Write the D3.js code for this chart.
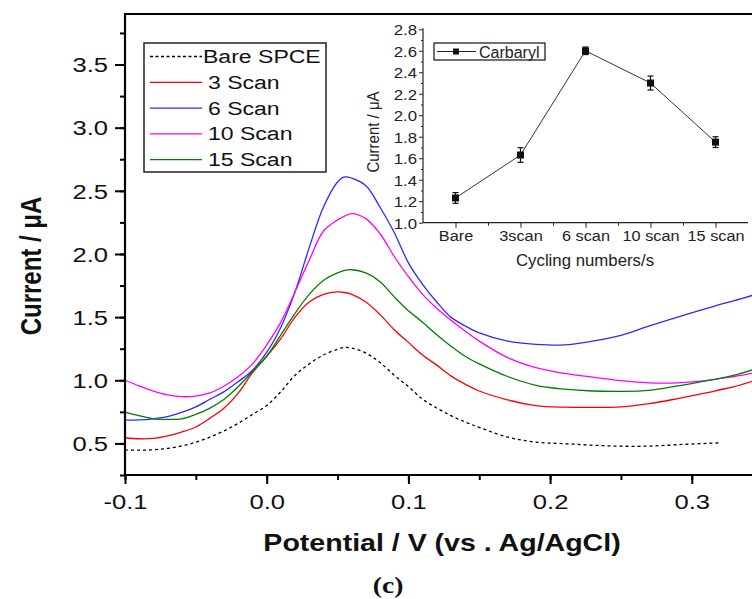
<!DOCTYPE html>
<html><head><meta charset="utf-8">
<script src="https://cdn.jsdelivr.net/npm/d3@7"></script>
<style>body{margin:0;background:#fff} svg{display:block}</style>
</head><body><svg id="c" width="752" height="599"></svg>
<script>
// ---------- data ----------
const potentials = [-0.1,-0.09,-0.08,-0.07,-0.06,-0.05,-0.04,-0.03,-0.02,-0.01,0,0.01,0.02,0.03,0.04,0.05,0.055,0.06,0.07,0.08,0.09,0.1,0.11,0.12,0.13,0.14,0.15,0.17,0.19,0.21,0.23,0.25,0.27,0.29,0.31,0.32,0.33,0.345];
const bareSPCE = [0.447,0.447,0.45,0.46,0.48,0.51,0.55,0.60,0.66,0.73,0.80,0.91,1.04,1.13,1.20,1.245,1.26,1.255,1.215,1.14,1.04,0.95,0.85,0.78,0.72,0.67,0.627,0.55,0.51,0.498,0.486,0.478,0.479,0.49,0.50,0.505,null,null];
const scan3 = [0.545,0.537,0.54,0.56,0.59,0.63,0.70,0.78,0.90,1.06,1.19,1.33,1.50,1.62,1.68,1.70,1.695,1.68,1.62,1.52,1.40,1.30,1.20,1.12,1.035,0.97,0.915,0.845,0.80,0.787,0.785,0.79,0.815,0.855,0.90,0.925,0.95,1.00];
const scan6 = [0.684,0.686,0.695,0.712,0.745,0.79,0.85,0.91,0.99,1.08,1.22,1.42,1.70,2.05,2.37,2.57,2.61,2.60,2.54,2.37,2.17,1.93,1.76,1.62,1.50,1.43,1.375,1.31,1.285,1.28,1.31,1.355,1.43,1.50,1.567,1.60,1.63,1.68];
const scan10 = [1.00,0.955,0.915,0.885,0.87,0.875,0.90,0.955,1.03,1.13,1.28,1.46,1.70,1.95,2.18,2.27,2.30,2.32,2.28,2.16,1.98,1.82,1.68,1.57,1.475,1.39,1.31,1.18,1.10,1.055,1.025,0.997,0.98,0.98,0.997,1.015,1.03,1.06];
const scan15 = [0.747,0.72,0.695,0.69,0.695,0.73,0.78,0.85,0.95,1.07,1.19,1.36,1.53,1.68,1.79,1.85,1.87,1.875,1.85,1.78,1.66,1.55,1.46,1.36,1.27,1.19,1.13,1.03,0.96,0.93,0.915,0.912,0.92,0.955,0.995,1.015,1.04,1.09];
const seriesNames = ["Bare SPCE","3 Scan","6 Scan","10 Scan","15 Scan"];
const xTicks = [-0.1,0.0,0.1,0.2,0.3];
const yTicks = [0.5,1.0,1.5,2.0,2.5,3.0,3.5];
const insetCategories = ["Bare","3scan","6 scan","10 scan","15 scan"];
const insetValues = [1.23,1.63,2.60,2.30,1.75];
const insetErrors = [0.05,0.068,0.035,0.065,0.05];
const insetYTicks = [1.0,1.2,1.4,1.6,1.8,2.0,2.2,2.4,2.6,2.8];
const insetLegend = "Carbaryl";

// ---------- styles ----------
const colors = ["#000000","#ff0000","#2a2aff","#ff00ff","#008000"];
const SX = 1.28;            // horizontal glyph stretch of the original
const FONT = "'Liberation Sans', Arial, sans-serif";

const svg = d3.select("#c");
const W = 752;
const pL = 125, pT = 14, pB = 475;
const x = d3.scaleLinear().domain([-0.1, 0.35]).range([pL, pL + 0.45 * 1417]);
const y = d3.scaleLinear().domain([0.25, 3.9]).range([pB, pT]);
const fmt1 = d => d.toFixed(1);

function txt(g, px, py, s, o) {
  return g.append("text")
    .attr("transform", `translate(${px},${py}) scale(${o.sx || 1},1)` + (o.rot ? ` rotate(${o.rot})` : ""))
    .attr("text-anchor", o.anchor || "start")
    .style("font-family", o.family || FONT)
    .style("font-size", o.size + "px")
    .style("font-weight", o.weight || "normal")
    .style("fill", o.fill || "#111")
    .text(s);
}

// ---------- curves ----------
const plot = svg.append("g");
const allSeries = [bareSPCE, scan3, scan6, scan10, scan15];
const line = d3.line()
  .defined(d => d[1] != null)
  .x(d => x(d[0])).y(d => y(d[1]))
  .curve(d3.curveCatmullRom.alpha(0.5));
allSeries.forEach((vals, i) => {
  plot.append("path")
    .datum(potentials.map((p, k) => [p, vals[k]]))
    .attr("d", line)
    .attr("fill", "none")
    .attr("stroke", colors[i])
    .attr("stroke-width", 1.3)
    .attr("stroke-dasharray", i === 0 ? "3,3" : null);
});

// ---------- axes ----------
const axG = svg.append("g");
axG.append("g").attr("transform", `translate(${pL},0)`)
  .call(d3.axisLeft(y).tickValues(d3.range(0.25, 3.9, 0.25)).tickSize(5).tickFormat(""))
  .call(g => g.select(".domain").remove())
  .call(g => g.selectAll("line").attr("stroke", "#000").attr("stroke-width", 2));
axG.append("g").attr("transform", `translate(${pL},0)`)
  .call(d3.axisLeft(y).tickValues(yTicks).tickSize(10).tickFormat(fmt1))
  .call(g => g.select(".domain").remove())
  .call(g => g.selectAll("line").attr("stroke", "#000").attr("stroke-width", 2))
  .call(g => g.selectAll("text")
    .attr("x", null).attr("dy", "0.36em")
    .attr("transform", `translate(-17,0) scale(${SX},1)`)
    .style("font-family", FONT).style("font-size", "20px").style("fill", "#111"));
axG.append("g").attr("transform", `translate(0,${pB})`)
  .call(d3.axisBottom(x).tickValues(d3.range(-0.1, 0.36, 0.05)).tickSize(5).tickFormat(""))
  .call(g => g.select(".domain").remove())
  .call(g => g.selectAll("line").attr("stroke", "#000").attr("stroke-width", 2));
axG.append("g").attr("transform", `translate(0,${pB})`)
  .call(d3.axisBottom(x).tickValues(xTicks).tickSize(9).tickFormat(fmt1))
  .call(g => g.select(".domain").remove())
  .call(g => g.selectAll("line").attr("stroke", "#000").attr("stroke-width", 2))
  .call(g => g.selectAll("text")
    .attr("y", null).attr("dy", null)
    .attr("transform", `translate(0,34) scale(${SX},1)`)
    .style("font-family", FONT).style("font-size", "20px").style("fill", "#111"));
axG.append("line").attr("x1", pL).attr("x2", pL).attr("y1", pT - 1).attr("y2", pB + 1)
  .attr("stroke", "#000").attr("stroke-width", 2.2);
axG.append("line").attr("x1", pL - 1).attr("x2", W).attr("y1", pB).attr("y2", pB)
  .attr("stroke", "#000").attr("stroke-width", 2.2);
axG.append("line").attr("x1", pL - 1).attr("x2", W).attr("y1", pT).attr("y2", pT)
  .attr("stroke", "#000").attr("stroke-width", 2.2);

txt(svg, 442, 551, "Potential / V (vs . Ag/AgCl)", {size: 24, weight: "bold", anchor: "middle", sx: 1.19});
txt(svg, 41, 266, "Current / μA", {size: 24, weight: "bold", anchor: "middle", sx: 1.2, rot: -90});
txt(svg, 388, 593, "(c)", {size: 24, weight: "bold", anchor: "middle", sx: 1.15, family: "'Liberation Serif', 'Times New Roman', serif"});

// ---------- main legend ----------
const lg = svg.append("g");
lg.append("rect").attr("x", 144).attr("y", 43).attr("width", 182).attr("height", 129)
  .attr("fill", "#fff").attr("stroke", "#222").attr("stroke-width", 1.5);
seriesNames.forEach((n, i) => {
  const cy = 56.5 + i * 25.8;
  lg.append("line").attr("x1", 150).attr("x2", 202).attr("y1", cy).attr("y2", cy)
    .attr("stroke", colors[i]).attr("stroke-width", 1.3)
    .attr("stroke-dasharray", i === 0 ? "3,2.5" : null);
  txt(lg, i === 0 ? 203 : 208, cy + 6.5, n, {size: 18, sx: SX});
});

// ---------- inset ----------
const ins = svg.append("g");
const iL = 423, iR = 748, iB = 222.7, iT = 29.3;
const ix = d3.scaleLinear().domain([0.5, 5.5]).range([iL, iR]);
const iy = d3.scaleLinear().domain([1.0, 2.8]).range([iB, iT]);
const ICOL = "#222";
ins.append("g").attr("transform", `translate(${iL},0)`)
  .call(d3.axisLeft(iy).tickValues(d3.range(1.1, 2.8, 0.2)).tickSize(2).tickFormat(""))
  .call(g => g.select(".domain").remove())
  .call(g => g.selectAll("line").attr("stroke", ICOL));
ins.append("g").attr("transform", `translate(${iL},0)`)
  .call(d3.axisLeft(iy).tickValues(insetYTicks).tickSize(4).tickFormat(fmt1))
  .call(g => g.select(".domain").remove())
  .call(g => g.selectAll("line").attr("stroke", ICOL))
  .call(g => g.selectAll("text")
    .attr("x", null).attr("dy", "0.36em")
    .attr("transform", `translate(-6,0) scale(1.12,1)`)
    .style("font-family", FONT).style("font-size", "15px").style("fill", ICOL));
ins.append("g").attr("transform", `translate(0,${iB})`)
  .call(d3.axisBottom(ix).tickValues([1.5, 2.5, 3.5, 4.5]).tickSize(3).tickFormat(""))
  .call(g => g.select(".domain").remove())
  .call(g => g.selectAll("line").attr("stroke", ICOL));
ins.append("g").attr("transform", `translate(0,${iB})`)
  .call(d3.axisBottom(ix).tickValues([1, 2, 3, 4, 5]).tickSize(5).tickFormat(d => insetCategories[d - 1]))
  .call(g => g.select(".domain").remove())
  .call(g => g.selectAll("line").attr("stroke", ICOL))
  .call(g => g.selectAll("text")
    .attr("y", null).attr("dy", null)
    .attr("transform", `translate(0,18) scale(1.05,1)`)
    .style("font-family", FONT).style("font-size", "15.5px").style("fill", ICOL));
ins.append("line").attr("x1", iL).attr("x2", iL).attr("y1", iT - 1).attr("y2", iB)
  .attr("stroke", ICOL).attr("stroke-width", 1.2);
ins.append("line").attr("x1", iL).attr("x2", iR).attr("y1", iB).attr("y2", iB)
  .attr("stroke", ICOL).attr("stroke-width", 1.2);
txt(ins, 585, 266, "Cycling numbers/s", {size: 16, anchor: "middle", sx: 1.05, fill: ICOL});
txt(ins, 379, 132, "Current / μA", {size: 15, anchor: "middle", sx: 1.1, rot: -90, fill: ICOL});
const pts = insetValues.map((v, i) => [i + 1, v, insetErrors[i]]);
ins.append("path").datum(pts)
  .attr("d", d3.line().x(d => ix(d[0])).y(d => iy(d[1])))
  .attr("fill", "none").attr("stroke", "#333").attr("stroke-width", 1);
const eb = ins.selectAll(".eb").data(pts).enter().append("g");
eb.append("line").attr("x1", d => ix(d[0])).attr("x2", d => ix(d[0]))
  .attr("y1", d => iy(d[1] - d[2])).attr("y2", d => iy(d[1] + d[2]))
  .attr("stroke", "#111").attr("stroke-width", 1.2);
[-1, 1].forEach(s => {
  eb.append("line").attr("x1", d => ix(d[0]) - 3).attr("x2", d => ix(d[0]) + 3)
    .attr("y1", d => iy(d[1] + s * d[2])).attr("y2", d => iy(d[1] + s * d[2]))
    .attr("stroke", "#111").attr("stroke-width", 1.2);
});
eb.append("rect").attr("x", d => ix(d[0]) - 3.5).attr("y", d => iy(d[1]) - 3.5)
  .attr("width", 7).attr("height", 7).attr("fill", "#111");
ins.append("rect").attr("x", 434).attr("y", 43).attr("width", 111).attr("height", 17)
  .attr("fill", "#fff").attr("stroke", "#111").attr("stroke-width", 1.2);
ins.append("line").attr("x1", 437).attr("x2", 476).attr("y1", 51.5).attr("y2", 51.5)
  .attr("stroke", "#222").attr("stroke-width", 1);
ins.append("rect").attr("x", 453).attr("y", 48.5).attr("width", 6).attr("height", 6).attr("fill", "#111");
txt(ins, 479, 57.5, insetLegend, {size: 16, sx: 1.0, fill: ICOL});
</script></body></html>
